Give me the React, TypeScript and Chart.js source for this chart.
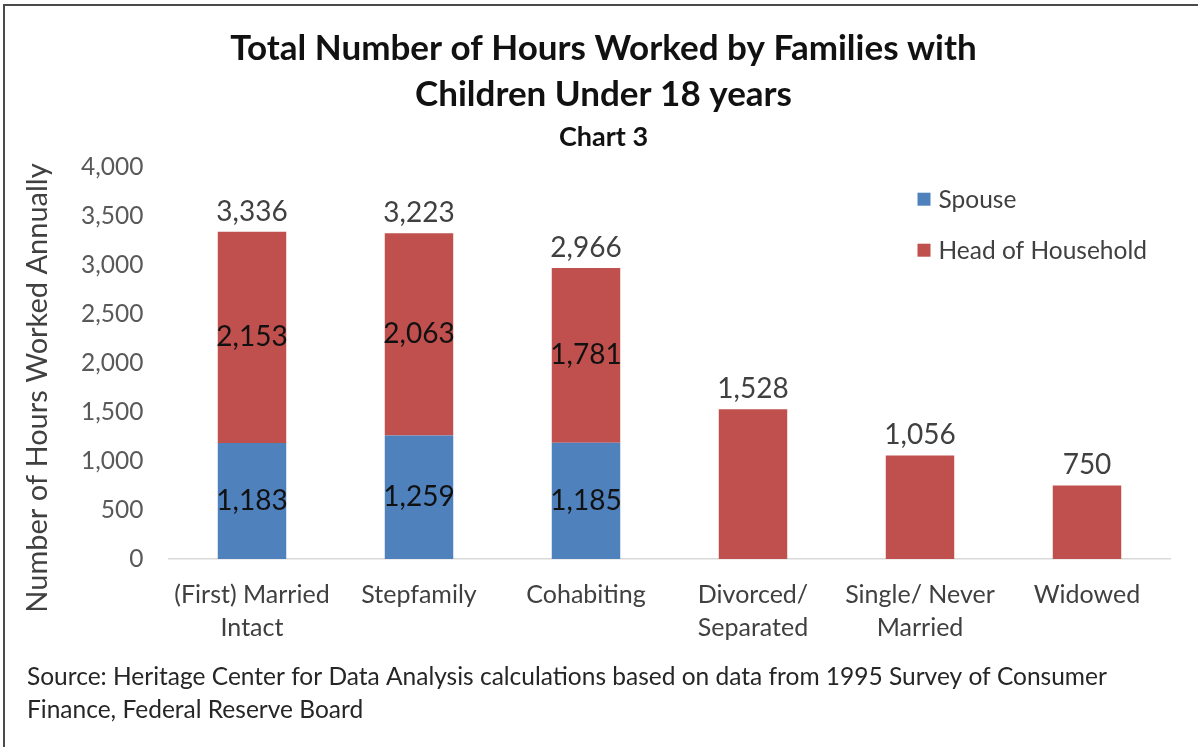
import React, { useEffect, useRef } from 'react';
import { Chart, registerables } from 'chart.js';

Chart.register(...registerables);

const categories: string[][] = [
  ['(First) Married', 'Intact'],
  ['Stepfamily'],
  ['Cohabiting'],
  ['Divorced/', 'Separated'],
  ['Single/ Never', 'Married'],
  ['Widowed'],
];
const spouseHours: (number | null)[] = [1183, 1259, 1185, null, null, null];
const headHours: number[] = [2153, 2063, 1781, 1528, 1056, 750];
const totalLabels: number[] = [3336, 3223, 2966, 1528, 1056, 750];
const yTickValues: number[] = [0, 500, 1000, 1500, 2000, 2500, 3000, 3500, 4000];
const seriesNames: string[] = ['Spouse', 'Head of Household'];
const seriesColors: string[] = ['#4F81BD', '#C0504D'];
const titleLines: string[] = ['Total Number of Hours Worked by Families with', 'Children Under 18 years'];
const subtitleText = 'Chart 3';
const yAxisTitle = 'Number of Hours Worked Annually';
const sourceLines: string[] = [
  'Source: Heritage Center for Data Analysis calculations based on data from 1995 Survey of Consumer',
  'Finance, Federal Reserve Board',
];

const FONT = 'Lato, "Open Sans", sans-serif';
const fmt = (n: number) => n.toLocaleString('en-US');

const decorPlugin = {
  id: 'decor',
  beforeDraw(chart: any) {
    const ctx = chart.ctx;
    ctx.save();
    ctx.fillStyle = '#ffffff';
    ctx.fillRect(0, 0, chart.width, chart.height);
    ctx.strokeStyle = '#4a4a4a';
    ctx.lineWidth = 2;
    ctx.strokeRect(4, 5, chart.width + 20, chart.height + 20);
    ctx.restore();
  },
  afterDatasetsDraw(chart: any) {
    const ctx = chart.ctx;
    const m0 = chart.getDatasetMeta(0);
    const m1 = chart.getDatasetMeta(1);
    ctx.save();
    ctx.font = `28px ${FONT}`;
    ctx.textAlign = 'center';
    ctx.textBaseline = 'middle';
    for (let i = 0; i < categories.length; i++) {
      const s = spouseHours[i];
      const h = headHours[i];
      const e0 = m0.data[i];
      const e1 = m1.data[i];
      if (s != null && s > 0) {
        ctx.fillStyle = '#111111';
        ctx.fillText(fmt(s), e0.x, (e0.y + e0.base) / 2);
        ctx.fillText(fmt(h), e1.x, (e1.y + e1.base) / 2);
      }
      ctx.fillStyle = '#404040';
      ctx.fillText(fmt(totalLabels[i]), e1.x, e1.y - 20);
    }
    ctx.restore();
  },
  afterDraw(chart: any) {
    const ctx = chart.ctx;
    const area = chart.chartArea;
    ctx.save();
    // legend
    ctx.font = `24.5px ${FONT}`;
    ctx.textBaseline = 'middle';
    ctx.textAlign = 'left';
    const lx = area.right - 253;
    const ly = area.top + 33;
    for (let i = 0; i < seriesNames.length; i++) {
      const y = ly + i * 51;
      ctx.fillStyle = seriesColors[i];
      ctx.fillRect(lx, y - 7, 13, 13);
      ctx.fillStyle = '#404040';
      ctx.fillText(seriesNames[i], lx + 21, y);
    }
    // y axis title
    ctx.save();
    ctx.translate(38, area.bottom - 171);
    ctx.rotate(-Math.PI / 2);
    ctx.font = `29px ${FONT}`;
    ctx.fillStyle = '#404040';
    ctx.textAlign = 'center';
    ctx.fillText(yAxisTitle, 0, 0);
    ctx.restore();
    // source
    ctx.font = `24.5px ${FONT}`;
    ctx.fillStyle = '#262626';
    ctx.textAlign = 'left';
    sourceLines.forEach((line, i) => ctx.fillText(line, 27, area.bottom + 118 + i * 33));
    ctx.restore();
  },
};

export default function App() {
  const ref = useRef<HTMLCanvasElement>(null);
  useEffect(() => {
    document.body.style.margin = '0';
    const canvas = ref.current!;
    const chart = new Chart(canvas, {
      type: 'bar',
      data: {
        labels: categories,
        datasets: [
          {
            label: seriesNames[0],
            data: spouseHours,
            backgroundColor: seriesColors[0],
            barPercentage: 0.41,
            categoryPercentage: 1,
          },
          {
            label: seriesNames[1],
            data: headHours,
            backgroundColor: seriesColors[1],
            barPercentage: 0.41,
            categoryPercentage: 1,
          },
        ],
      },
      options: {
        responsive: false,
        animation: false,
        layout: { padding: { top: 0, left: 36.5, right: 27.5, bottom: 102 } },
        plugins: {
          legend: { display: false },
          tooltip: { enabled: false },
          title: {
            display: true,
            text: titleLines,
            color: '#111111',
            font: { family: FONT, size: 35, weight: 'bold', lineHeight: 1.33 },
            padding: { top: 25, bottom: 5 },
          },
          subtitle: {
            display: true,
            text: subtitleText,
            color: '#111111',
            font: { family: FONT, size: 27, weight: 'bold', lineHeight: 1 },
            padding: { top: 1, bottom: 15.6 },
          },
        },
        scales: {
          x: {
            stacked: true,
            grid: { display: false, drawTicks: false },
            border: { display: true, color: '#D9D9D9', width: 1.5 },
            ticks: {
              color: '#404040',
              padding: 19.5,
              maxRotation: 0,
              autoSkip: false,
              font: { family: FONT, size: 25, lineHeight: 1.32 },
            },
            afterFit: (scale: any) => {
              scale.height = 86;
            },
          },
          y: {
            stacked: true,
            min: 0,
            max: 4000,
            grid: { display: false, drawTicks: false },
            border: { display: false },
            afterBuildTicks: (scale: any) => {
              scale.ticks = yTickValues.map((v) => ({ value: v }));
            },
            ticks: {
              color: '#595959',
              padding: 25,
              font: { family: FONT, size: 24.5 },
              callback: (v: any) => fmt(Number(v)),
            },
            afterFit: (scale: any) => {
              scale.width = 132;
            },
          },
        },
      },
      plugins: [decorPlugin],
    });
    return () => chart.destroy();
  }, []);
  return (
    <div style={{ width: 1198, height: 747 }}>
      <canvas ref={ref} width={1198} height={747} />
    </div>
  );
}
